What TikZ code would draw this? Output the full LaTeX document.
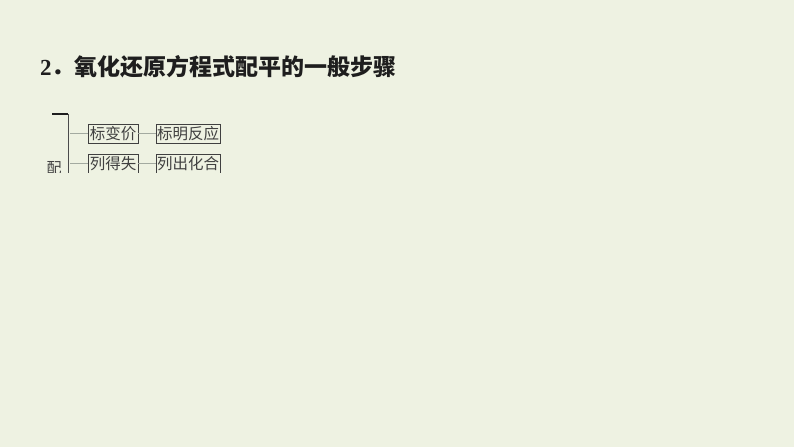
\documentclass[tikz,border=0pt]{standalone}
\usepackage{fontspec}
\setmainfont{Liberation Serif}
\newfontfamily\cjk{Noto Sans CJK SC}
\definecolor{paper}{HTML}{EEF2E2}
\definecolor{ink}{HTML}{1E1E1E}
\definecolor{wire}{HTML}{A3AAA0}
\tikzset{
  stepbox/.style={draw=ink!85,line width=0.9pt,inner sep=0pt,minimum height=19,font=\cjk\fontsize{15.5}{16}\selectfont,text=ink!85},
  link/.style={wire,line width=0.8pt}
}
\begin{document}
\begin{tikzpicture}[x=1pt,y=-1pt]
  \fill[paper] (0,0) rectangle (794,447);
  \useasboundingbox (0,0) rectangle (794,447);
  \node[anchor=west,text=ink,inner sep=0pt] (title) at (40,67)
    {\bfseries\fontsize{23}{24}\selectfont 2\cjk ．氧化还原方程式配平的一般步骤};
  \begin{scope}
    \clip (0,100) rectangle (794,172);
    \node[stepbox,minimum width=50] (mark) at (113,133.5) {标变价};
    \node[stepbox,minimum width=64] (markrx) at (188,133.5) {标明反应};
    \node[stepbox,minimum width=50] (list) at (113,163.5) {列得失};
    \node[stepbox,minimum width=64] (listch) at (188,163.5) {列出化合};
    \node[anchor=north,inner sep=0pt,text=ink!85,font=\cjk\fontsize{15}{15}\selectfont] (pei) at (54,161) {配};
    % bracket
    \coordinate (top) at (52,114);
    \coordinate (corner) at (68,114);
    \coordinate (foot) at (68,180);
    \draw[ink,line width=1.3pt] (top) -- (corner);
    \draw[ink!80,line width=0.9pt] (corner) -- (foot);
    \coordinate (j1) at (70,133.5);
    \coordinate (j2) at (70,163.5);
    \draw[link] (j1) -- (mark.west);
    \draw[link] (j2) -- (list.west);
    \draw[link] (mark.east) -- (markrx.west);
    \draw[link] (list.east) -- (listch.west);
  \end{scope}
\end{tikzpicture}
\end{document}
